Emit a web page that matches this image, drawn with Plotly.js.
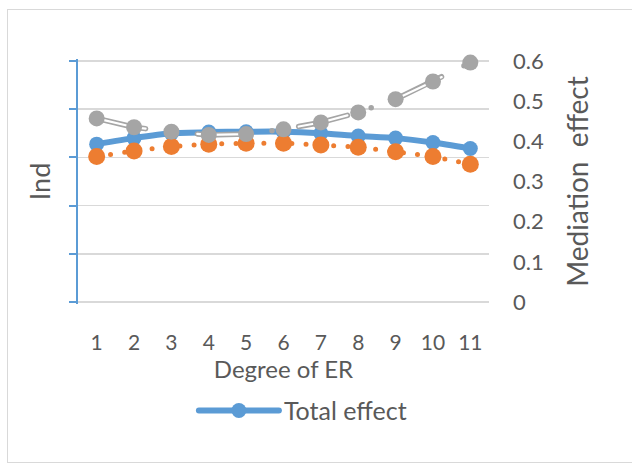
<!DOCTYPE html>
<html>
<head>
<meta charset="utf-8">
<script src="https://cdn.plot.ly/plotly-3.0.1.min.js"></script>
<style>
  html, body { margin: 0; padding: 0; background: #fff; }
  #wrap { position: relative; width: 632px; height: 463px; }
  #chart { width: 632px; height: 463px; }
  #frame {
    position: absolute; left: 7px; top: 9px; width: 640px; height: 452px;
    border: 1.5px solid #d9d9d9; pointer-events: none;
  }
  /* rounded line ends, as in office-style charts */
  path.js-line { stroke-linecap: round; stroke-linejoin: round; }
</style>
</head>
<body>
<div id="wrap">
  <div id="chart"></div>
  <div id="frame"></div>
</div>
<script>
// Degree of environmental regulation (x categories)
const degrees = ['1', '2', '3', '4', '5', '6', '7', '8', '9', '10', '11'];

// Mediation effects at each degree
const totalEffect = [0.393, 0.408, 0.420, 0.423, 0.424, 0.424, 0.420, 0.413, 0.408, 0.397, 0.382];
const orangeEffect = [0.362, 0.376, 0.387, 0.393, 0.395, 0.395, 0.391, 0.385, 0.374, 0.362, 0.343];
const grayEffect = [0.457, 0.435, 0.424, 0.416, 0.418, 0.430, 0.447, 0.472, 0.505, 0.549, 0.596];

// Right-hand axis tick values
const rightTicks = [0, 0.1, 0.2, 0.3, 0.4, 0.5, 0.6];

const BLUE = '#5b9bd5', ORANGE = '#ed7d31', GRAY = '#a5a5a5';
const FONT = 'Lato, "Open Sans", sans-serif';
const TXT = '#595959';
const GRID = '#d9d9d9';

// a hair of padding beyond 0 and 0.6 so the end gridlines are kept
const Y_RANGE = [-0.005, 0.605];

const traces = [
  {
    name: 'Total effect', x: degrees, y: totalEffect, yaxis: 'y',
    type: 'scatter', mode: 'lines+markers', cliponaxis: false,
    line: { color: BLUE, width: 6, shape: 'spline', smoothing: 0.6 },
    marker: { color: BLUE, size: 15 },
    showlegend: true
  },
  {
    name: 'Effect 2', x: degrees, y: orangeEffect, yaxis: 'y2',
    type: 'scatter', mode: 'lines+markers', cliponaxis: false,
    line: { color: ORANGE, width: 5, dash: '0px,14px', shape: 'spline', smoothing: 0.6 },
    marker: { color: ORANGE, size: 17 },
    showlegend: false
  },
  // double (compound) dash-dot line: outer gray stroke plus a thin white core
  {
    name: 'Effect 3', x: degrees, y: grayEffect, yaxis: 'y2',
    type: 'scatter', mode: 'lines', cliponaxis: false,
    line: { color: GRAY, width: 5.5, dash: '50px,25px,0px,27px' },
    showlegend: false, hoverinfo: 'skip'
  },
  {
    name: 'Effect 3 core', x: degrees, y: grayEffect, yaxis: 'y2',
    type: 'scatter', mode: 'lines', cliponaxis: false,
    line: { color: '#ffffff', width: 2.2, dash: '50px,52px' },
    showlegend: false, hoverinfo: 'skip'
  },
  {
    name: 'Effect 3', x: degrees, y: grayEffect, yaxis: 'y2',
    type: 'scatter', mode: 'markers', cliponaxis: false,
    marker: { color: GRAY, size: 16 },
    showlegend: false
  }
];

const layout = {
  width: 632, height: 463,
  margin: { l: 78, r: 143, t: 59, b: 159, pad: 0 },
  paper_bgcolor: '#ffffff', plot_bgcolor: 'rgba(0,0,0,0)',
  font: { family: FONT, color: TXT, size: 21 },
  showlegend: true,
  legend: {
    orientation: 'h', x: 0.282, xanchor: 'left', y: -0.436, yanchor: 'middle',
    font: { family: FONT, size: 25, color: TXT }, itemwidth: 80,
    bgcolor: 'rgba(0,0,0,0)'
  },
  xaxis: {
    type: 'category', categoryorder: 'array', categoryarray: degrees,
    range: [-0.5, 10.5], showgrid: false, showline: false, zeroline: false,
    ticks: '', ticklabelstandoff: 24,
    tickfont: { family: FONT, size: 21, color: TXT },
    title: { text: 'Degree of ER', font: { family: FONT, size: 24, color: TXT }, standoff: 2 }
  },
  // left ("Ind") axis: unlabeled, five equal intervals carrying the gridlines
  yaxis: {
    range: Y_RANGE, tickmode: 'linear', tick0: 0, dtick: 0.12,
    showgrid: true, gridcolor: GRID, gridwidth: 1.5,
    zeroline: false, showline: true, linecolor: BLUE, linewidth: 2,
    ticks: 'outside', ticklen: 7, tickcolor: BLUE, tickwidth: 2,
    showticklabels: false,
    title: { text: 'Ind', font: { family: FONT, size: 27, color: TXT }, standoff: 11 }
  },
  yaxis2: {
    overlaying: 'y', side: 'right', anchor: 'x', range: Y_RANGE,
    tickmode: 'array', tickvals: rightTicks,
    showgrid: false, zeroline: false, showline: false, ticks: '',
    ticklabelstandoff: 23,
    tickfont: { family: FONT, size: 22, color: TXT },
    title: { text: 'Mediation\u00a0 effect', font: { family: FONT, size: 28, color: TXT }, standoff: 25 }
  }
};

Plotly.newPlot('chart', traces, layout, { staticPlot: true, displayModeBar: false });
</script>
</body>
</html>
